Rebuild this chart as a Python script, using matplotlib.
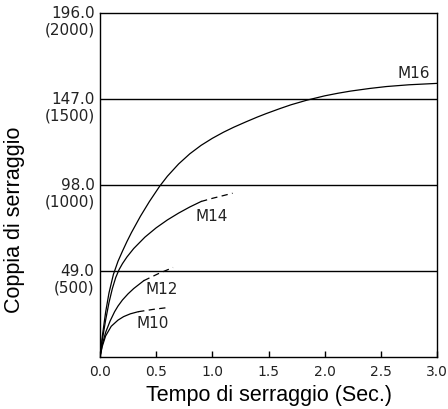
import matplotlib
matplotlib.use("Agg")
import matplotlib.pyplot as plt
import matplotlib.transforms as mtransforms

# tightening curves (time in s, torque in N·m)
m16_t = [0, 0.02, 0.05, 0.08, 0.119, 0.16, 0.2, 0.24, 0.28, 0.36, 0.44, 0.53, 0.6, 0.7, 0.8, 0.9,
         1.0, 1.1, 1.19, 1.3, 1.4, 1.48, 1.6, 1.7, 1.84, 2.0, 2.12, 2.23, 2.4, 2.55, 2.75, 3.0]
m16_y = [0, 11.5, 25.5, 36.5, 47, 54.5, 60.3, 65.8, 70.9, 80.2, 88.6, 97.2, 103.0, 110.0, 115.8, 120.6,
         124.6, 128.1, 130.9, 134.0, 136.7, 138.7, 141.5, 143.7, 146.3, 148.8, 150.3, 151.5, 153.0, 154.1, 155.1, 155.9]

m14_t = [0, 0.02, 0.05, 0.08, 0.11, 0.14, 0.17, 0.2, 0.24, 0.3, 0.4, 0.5, 0.6, 0.7, 0.8, 0.9]
m14_y = [0, 9.5, 21, 31, 39, 45.3, 49.8, 53.2, 57, 61.8, 68.3, 73.6, 78.1, 82, 85.5, 88.6]
m14_dash_t = [0.9, 1.0, 1.1, 1.18]
m14_dash_y = [88.6, 90.4, 92.0, 93.3]

m12_t = [0, 0.02, 0.05, 0.09, 0.13, 0.16, 0.2, 0.25, 0.3, 0.39]
m12_y = [0, 7, 14, 20.5, 25.8, 29, 32.5, 36, 39, 43.5]
m12_dash_t = [0.39, 0.52, 0.65]
m12_dash_y = [43.5, 47.5, 51]

m10_t = [0, 0.02, 0.05, 0.1, 0.16, 0.21, 0.27, 0.34]
m10_y = [0, 6, 12, 17.5, 21, 23, 24.6, 25.8]
m10_dash_t = [0.34, 0.48, 0.62]
m10_dash_y = [25.8, 27.2, 28.3]

curve_names = ["M10", "M12", "M14", "M16"]
name_pos = [(0.47, 19.2), (0.55, 38.2), (0.99, 80), (2.79, 161.6)]

x_ticks = [0.0, 0.5, 1.0, 1.5, 2.0, 2.5, 3.0]
torque_nm = [49.0, 98.0, 147.0, 196.0]
torque_kgf = [500, 1000, 1500, 2000]

num_font = ["DejaVu Sans"]
lbl_font = ["Liberation Sans", "DejaVu Sans"]

fig = plt.figure(figsize=(4.48, 4.09), dpi=100)
ax = fig.add_axes([100 / 448, 52 / 409, 337 / 448, 344 / 409])

lw = 0.9
dash = (5, 3.5)
ax.plot(m16_t, m16_y, color="black", lw=lw)
ax.plot(m14_t, m14_y, color="black", lw=lw)
ax.plot(m14_dash_t, m14_dash_y, color="black", lw=lw, dashes=dash)
ax.plot(m12_t, m12_y, color="black", lw=lw)
ax.plot(m12_dash_t, m12_dash_y, color="black", lw=lw, dashes=dash)
ax.plot(m10_t, m10_y, color="black", lw=lw)
ax.plot(m10_dash_t, m10_dash_y, color="black", lw=lw, dashes=dash)

for v in torque_nm[:-1]:
    ax.axhline(v, color="black", lw=1.0)

for name, (px, py) in zip(curve_names, name_pos):
    ax.text(px, py, name, ha="center", va="center", fontsize=11, family=num_font, color="#222222")

ax.set_xlim(0, 3.0)
ax.set_ylim(0, 196)
for s in ax.spines.values():
    s.set_linewidth(1.0)

ax.set_xticks(x_ticks)
ax.set_xticklabels([f"{t:.1f}" for t in x_ticks], family=num_font, fontsize=10, color="#222222")
ax.tick_params(axis="x", direction="in", length=4, width=1.0, pad=6)
ax.set_yticks([])

# two-line y labels: N·m on the grid line, kgf·cm underneath
trans = mtransforms.blended_transform_factory(ax.transAxes, ax.transData)
off = mtransforms.offset_copy(trans, fig=fig, x=0, y=-17, units="dots")
for nm, kg in zip(torque_nm, torque_kgf):
    ax.text(-0.016, nm, f"{nm:.1f}", transform=trans, ha="right", va="center",
            fontsize=11, family=num_font, color="#222222")
    ax.text(-0.016, nm, f"({kg})", transform=off, ha="right", va="center",
            fontsize=11, family=num_font, color="#222222")

ax.set_xlabel("Tempo di serraggio (Sec.)", fontsize=15.5, family=lbl_font)
ax.xaxis.set_label_coords(0.5, -0.08)
ax.set_ylabel("Coppia di serraggio", fontsize=15.5, family=lbl_font)
ax.yaxis.set_label_coords(-0.255, 0.40)
ax.yaxis.label.set_va("center")
ax.xaxis.label.set_va("top")

fig.savefig("out.png", dpi=100)
